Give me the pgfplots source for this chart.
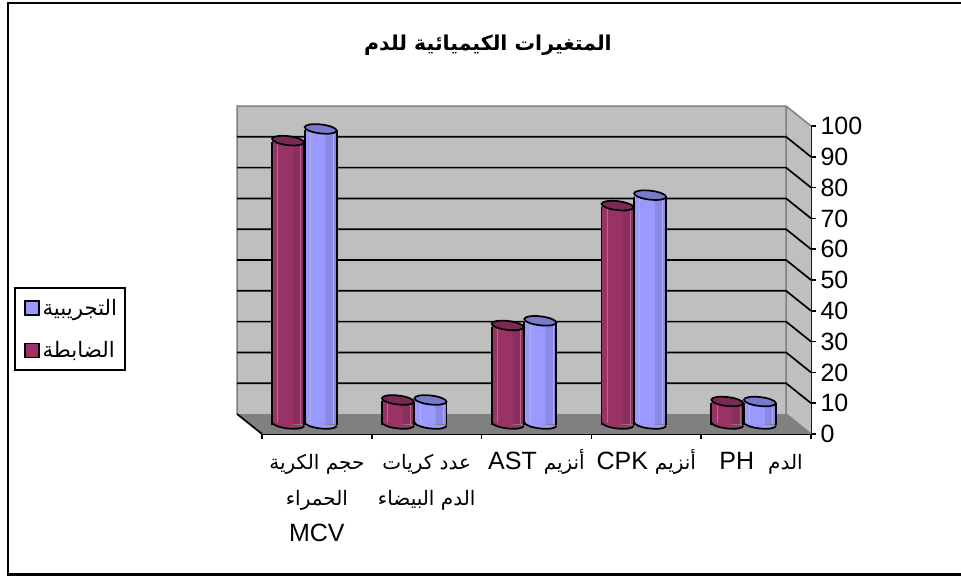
\documentclass[border=0pt]{standalone}
\usepackage{fontspec}
\usepackage{pgfplots}
\usepackage{pgfplotstable}
\pgfplotsset{compat=1.18}
\TeXXeTstate=1
\setmainfont{Liberation Sans}
\newfontfamily\arabicfont[Script=Arabic]{DejaVu Sans}
\newcommand\arl{\fontsize{20}{36}\selectfont\arabicfont}
\newcommand\st{\rule{0pt}{24pt}}
\definecolor{redb}{HTML}{993366}
\definecolor{redd}{HTML}{8A2E5C}
\definecolor{redt}{HTML}{7A2952}
\definecolor{redl}{HTML}{B56A90}
\definecolor{blub}{HTML}{9999FF}
\definecolor{blud}{HTML}{8A8AE6}
\definecolor{blut}{HTML}{7A7ACC}
\definecolor{blul}{HTML}{B0B0F0}
\pgfdeclareplotmark{cylend}{%
  \pgfpathellipse{\pgfpointorigin}{\pgfpoint{16pt}{-1.7pt}}{\pgfpoint{0pt}{4.5pt}}%
  \pgfusepathqfillstroke}
\pgfdeclareplotmark{cylbot}{%
  \pgfpathmoveto{\pgfpoint{-16pt}{1.7pt}}%
  \pgfpathcurveto{\pgfpoint{-16pt}{-0.785pt}}{\pgfpoint{-8.84pt}{-3.56pt}}{\pgfpoint{0pt}{-4.5pt}}%
  \pgfpathcurveto{\pgfpoint{8.84pt}{-5.44pt}}{\pgfpoint{16pt}{-4.185pt}}{\pgfpoint{16pt}{-1.7pt}}%
  \pgfusepathqfillstroke}
\pgfplotstableread{
x   v     z
0.5 92.0  0
1.5 7.8   0
2.5 32.0  0
3.5 70.9  0
4.5 7.3   0
}\redtable
\pgfplotstableread{
x   v     z
0.5 95.8  0
1.5 7.8   0
2.5 33.5  0
3.5 74.3  0
4.5 7.3   0
}\blutable
% #1 table, #2 body, #3 dark band, #4 top, #5 light line, #6 centre shift in pt
\newcommand\cyl[6]{%
  \addplot[forget plot,ybar,bar width=32pt,bar shift=0pt,fill=#2,draw=none,xshift=#6pt,yshift=10pt] table[x=x,y=v]{#1};
  \addplot[forget plot,ybar,bar width=11pt,bar shift=10.5pt,fill=#3,draw=none,xshift=#6pt,yshift=10pt] table[x=x,y=v]{#1};
  \addplot[forget plot,only marks,mark=cylbot,mark options={fill=#2,draw=black,line width=1.7pt},xshift=#6pt,yshift=10pt] table[x=x,y=z]{#1};
  \addplot[forget plot,ycomb,no marks,#5,line width=0.6pt,xshift=#6pt-10.5pt,yshift=10pt] table[x=x,y=v]{#1};
  \addplot[forget plot,ycomb,no marks,#5,line width=0.6pt,xshift=#6pt+12.5pt,yshift=10pt] table[x=x,y=v]{#1};
  \addplot[forget plot,ycomb,no marks,black,line width=1.7pt,xshift=#6pt-16pt,yshift=8.5pt] table[x=x,y=v]{#1};
  \addplot[forget plot,ycomb,no marks,black,line width=1.7pt,xshift=#6pt+16pt,yshift=8.5pt] table[x=x,y=v]{#1};
  \addplot[forget plot,only marks,mark=cylend,mark options={fill=#4,draw=black,line width=1.7pt},xshift=#6pt,yshift=10pt] table[x=x,y=v]{#1};
}
\begin{document}
\begin{tikzpicture}[x=1pt,y=1pt]
\path[use as bounding box] (0,0) rectangle (961,577);
\draw[black,line width=2.2pt] (961,574) -- (8,574) -- (8,2.5) -- (961,2.5);
\node[font=\fontsize{20.5}{24}\selectfont\bfseries\arabicfont] at (488,532) {\beginR المتغيرات الكيميائية للدم\endR};
\begin{axis}[
  at={(262pt,143pt)},anchor=origin,
  scale only axis,width=549pt,height=308pt,
  xmin=0,xmax=5,ymin=0,ymax=100,
  clip=false,
  axis x line*=bottom,axis y line*=right,
  axis line style={black,line width=1.8pt,-},
  x axis line style={-},y axis line style={-},
  xtick={0,1,2,3,4,5},
  x tick label as interval=true,
  xticklabels={{\st{\arl\beginR حجم الكرية\endR}\\{\arl\beginR الحمراء\endR}\\MCV},{\st{\arl\beginR عدد كريات\endR}\\{\arl\beginR الدم البيضاء\endR}},{\st AST {\arl\beginR أنزيم\endR}},{\st CPK {\arl\beginR أنزيم\endR}},{\st\hspace{10pt}PH\hspace{14pt}{\arl\beginR الدم\endR}}},
  ytick={0,10,...,100},
  tick style={black,line width=1.6pt},
  major tick length=5pt,
  tick align=outside,
  yticklabel pos=right,
  /pgf/number format/assume math mode=true,
  tick label style={font=\fontsize{25}{36}\selectfont},
  x tick label style={align=center,anchor=north,yshift=-3pt},
  y tick label style={anchor=west,xshift=1pt},
  legend style={at={(axis description cs:-0.4517,0.477)},anchor=north west,draw=black,line width=1.7pt,
     font=\fontsize{21.3}{24}\selectfont,inner xsep=6pt,inner ysep=9pt,row sep=21pt,cells={anchor=west},
     /tikz/column 1/.style={column sep=1pt}},
  legend image code/.code={\path (0pt,0pt); \draw[#1,line width=1.7pt] (3pt,-7pt) rectangle (17pt,7pt);},
]
% walls and floor
\addplot[forget plot,fill=black!25,draw=none] coordinates {(-0.2273,6.49)(4.773,6.49)(4.773,106.49)(-0.2273,106.49)} -- cycle;
\addplot[forget plot,fill=black!25,draw=none] coordinates {(4.773,6.49)(5,0)(5,100)(4.773,106.49)} -- cycle;
\addplot[forget plot,fill=black!50,draw=none] coordinates {(-0.2273,6.49)(4.773,6.49)(5,0)(0,0)} -- cycle;
% wall edges
\addplot[forget plot,black!50,line width=1.5pt] coordinates {(-0.2273,6.49)(-0.2273,106.49)(4.773,106.49)(5,100)};
\addplot[forget plot,black!50,line width=1.5pt] coordinates {(4.773,106.49)(4.773,6.49)(5,0)};
\addplot[forget plot,black,line width=1.7pt] coordinates {(-0.2273,6.49)(0,0)};
% grid lines
\addplot[forget plot,black,line width=1.7pt] coordinates {(-0.2273,16.49)(4.773,16.49)(5,10)};
\addplot[forget plot,black,line width=1.7pt] coordinates {(-0.2273,26.49)(4.773,26.49)(5,20)};
\addplot[forget plot,black,line width=1.7pt] coordinates {(-0.2273,36.49)(4.773,36.49)(5,30)};
\addplot[forget plot,black,line width=1.7pt] coordinates {(-0.2273,46.49)(4.773,46.49)(5,40)};
\addplot[forget plot,black,line width=1.7pt] coordinates {(-0.2273,56.49)(4.773,56.49)(5,50)};
\addplot[forget plot,black,line width=1.7pt] coordinates {(-0.2273,66.49)(4.773,66.49)(5,60)};
\addplot[forget plot,black,line width=1.7pt] coordinates {(-0.2273,76.49)(4.773,76.49)(5,70)};
\addplot[forget plot,black,line width=1.7pt] coordinates {(-0.2273,86.49)(4.773,86.49)(5,80)};
\addplot[forget plot,black,line width=1.7pt] coordinates {(-0.2273,96.49)(4.773,96.49)(5,90)};
\cyl{\redtable}{redb}{redd}{redt}{redl}{-28.8}
\cyl{\blutable}{blub}{blud}{blut}{blul}{3.8}
\addlegendimage{fill=blub}
\addlegendentry{{\arabicfont\beginR التجريبية\endR}}
\addlegendimage{fill=redb}
\addlegendentry{{\arabicfont\beginR الضابطة\endR}}
\end{axis}
\end{tikzpicture}
\end{document}
